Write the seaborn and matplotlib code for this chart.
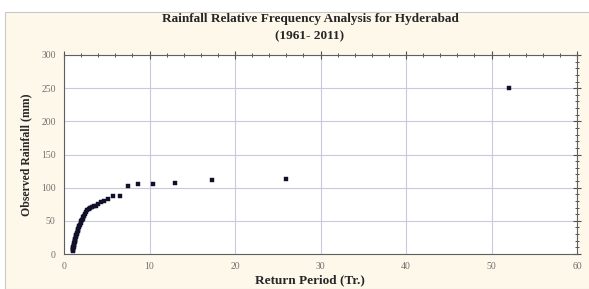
import matplotlib
matplotlib.use("Agg")
import matplotlib.pyplot as plt
from matplotlib.patches import Rectangle
from matplotlib.ticker import MultipleLocator
import pandas as pd
import seaborn as sns

# Return period (Tr.) and observed rainfall (mm)
return_period = [52.0, 26.0, 17.33, 13.0, 10.4, 8.67, 7.43, 6.5, 5.78, 5.2,
                 4.73, 4.33, 4.0, 3.71, 3.47, 3.25, 3.06, 2.89, 2.74, 2.6,
                 2.48, 2.36, 2.26, 2.17, 2.08, 2.0, 1.93, 1.86, 1.79, 1.73,
                 1.68, 1.63, 1.58, 1.53, 1.49, 1.44, 1.41, 1.37, 1.33, 1.3,
                 1.27, 1.24, 1.21, 1.18, 1.16, 1.13, 1.11, 1.08, 1.06, 1.04, 1.02]
rainfall = [250, 113, 111, 107, 105, 105, 102, 87, 87, 83,
            80, 78, 76, 73, 72, 71, 70, 68, 66, 63,
            60, 58, 56, 53, 51, 49, 47, 44, 42, 40,
            38, 36, 34, 32, 30, 28, 27, 25, 23, 21,
            19, 18, 16, 14, 13, 11, 10, 9, 7, 6, 4]

df = pd.DataFrame({"Return Period (Tr.)": return_period,
                   "Observed Rainfall (mm)": rainfall})

sns.set_style("white")
plt.rcParams["font.family"] = ["Liberation Serif", "DejaVu Serif"]

fig = plt.figure(figsize=(5.89, 2.89), dpi=100)
fig.patch.set_facecolor("white")
# cream panel behind the chart
fig.add_artist(Rectangle((5 / 589, 0), 1, 1 - 12 / 289, transform=fig.transFigure,
                         facecolor="#fdf8ea", edgecolor="#c8c8c8", lw=0.8, zorder=-1))

ax = fig.add_axes([64 / 589, 35 / 289, 513 / 589, 199 / 289])
ax.set_facecolor("white")

sns.scatterplot(data=df, x="Return Period (Tr.)", y="Observed Rainfall (mm)",
                marker="s", s=8, color="#10102a", edgecolor="#10102a",
                linewidth=0.3, ax=ax, zorder=3)

ax.set_xlim(0, 60)
ax.set_ylim(0, 300)
ax.xaxis.set_major_locator(MultipleLocator(10))
ax.xaxis.set_minor_locator(MultipleLocator(2))
ax.yaxis.set_major_locator(MultipleLocator(50))
ax.yaxis.set_minor_locator(MultipleLocator(10))
ax.grid(True, which="major", color="#c9c9dd", lw=0.8)

for s in ax.spines.values():
    s.set_color("#606060")
    s.set_linewidth(0.8)

ax.tick_params(which="both", direction="inout", top=True, right=True,
               labeltop=False, labelright=False, color="#505050",
               labelcolor="#707070", labelsize=7, pad=3)
ax.tick_params(which="major", length=6, width=0.8)
ax.tick_params(which="minor", length=2.5, width=0.7)

ax.set_xlabel("Return Period (Tr.)", fontsize=9.5, fontweight="bold", labelpad=5)
ax.xaxis.set_label_coords((310 - 64) / 513, -0.1)
ax.set_ylabel("Observed Rainfall (mm)", fontsize=8.5, fontweight="bold", labelpad=6)

fig.text(310 / 589, 1 - 19 / 289, "Rainfall Relative Frequency Analysis for Hyderabad",
         ha="center", va="center", fontsize=9.5, fontweight="bold")
fig.text(310 / 589, 1 - 36 / 289, "(1961- 2011)", ha="center", va="center",
         fontsize=9.5, fontweight="bold")

fig.savefig("out.png", dpi=100, facecolor=fig.get_facecolor())
